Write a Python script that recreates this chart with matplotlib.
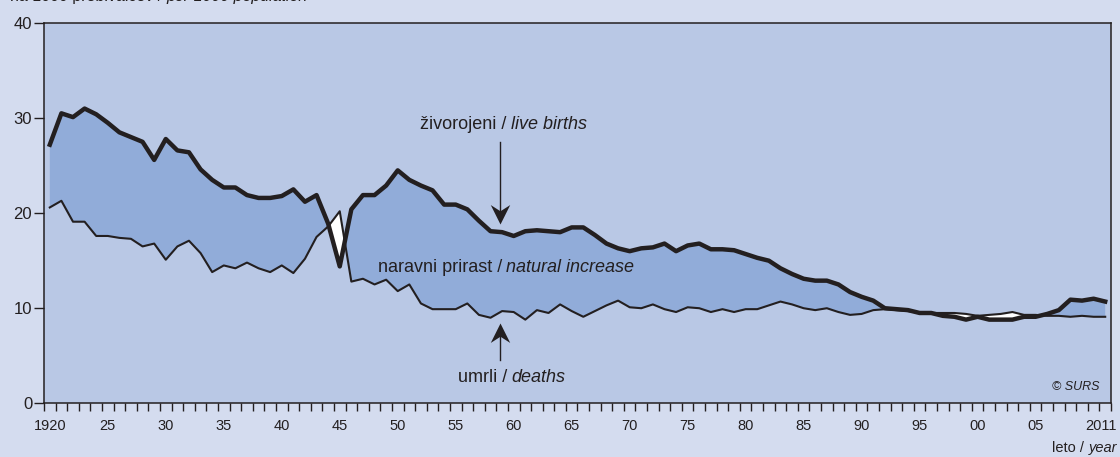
import numpy as np
import matplotlib
matplotlib.use('Agg')
import matplotlib.pyplot as plt
from matplotlib.path import Path

# crude rates per 1000 population, Slovenia 1920-2011
years = list(range(1920, 2012))
births = [
    27.2, 30.5, 30.1, 31.0, 30.4, 29.5, 28.5, 28.0, 27.5, 25.6,
    27.8, 26.6, 26.4, 24.6, 23.5, 22.7, 22.7, 21.9, 21.6, 21.6,
    21.8, 22.5, 21.2, 21.9, 18.9, 14.4, 20.4, 21.9, 21.9, 22.9,
    24.5, 23.5, 22.9, 22.4, 20.9, 20.9, 20.4, 19.2, 18.1, 18.0,
    17.6, 18.1, 18.2, 18.1, 18.0, 18.5, 18.5, 17.7, 16.8, 16.3,
    16.0, 16.3, 16.4, 16.8, 16.0, 16.6, 16.8, 16.2, 16.2, 16.1,
    15.7, 15.3, 15.0, 14.2, 13.6, 13.1, 12.9, 12.9, 12.5, 11.7,
    11.2, 10.8, 10.0, 9.9, 9.8, 9.5, 9.5, 9.2, 9.1, 8.8,
    9.1, 8.8, 8.8, 8.8, 9.1, 9.1, 9.4, 9.8, 10.9, 10.8, 11.0, 10.7,
]
deaths = [
    20.6, 21.3, 19.1, 19.1, 17.6, 17.6, 17.4, 17.3, 16.5, 16.8,
    15.1, 16.5, 17.1, 15.8, 13.8, 14.5, 14.2, 14.8, 14.2, 13.8,
    14.5, 13.7, 15.2, 17.5, 18.6, 20.2, 12.8, 13.1, 12.5, 13.0,
    11.8, 12.5, 10.5, 9.9, 9.9, 9.9, 10.5, 9.3, 9.0, 9.7,
    9.6, 8.8, 9.8, 9.5, 10.4, 9.7, 9.1, 9.7, 10.3, 10.8,
    10.1, 10.0, 10.4, 9.9, 9.6, 10.1, 10.0, 9.6, 9.9, 9.6,
    9.9, 9.9, 10.3, 10.7, 10.4, 10.0, 9.8, 10.0, 9.6, 9.3,
    9.4, 9.8, 9.9, 9.8, 9.7, 9.5, 9.5, 9.5, 9.5, 9.4,
    9.2, 9.3, 9.4, 9.6, 9.3, 9.3, 9.2, 9.2, 9.1, 9.2, 9.1, 9.1,
]

label_years = [1920, 1925, 1930, 1935, 1940, 1945, 1950, 1955, 1960, 1965,
               1970, 1975, 1980, 1985, 1990, 1995, 2000, 2005, 2011]
label_texts = ['1920', '25', '30', '35', '40', '45', '50', '55', '60', '65',
               '70', '75', '80', '85', '90', '95', '00', '05', '2011']
y_ticks = [0, 10, 20, 30, 40]

BG = '#d4dcef'
PLOT_BG = '#b9c8e5'
FILL = '#91acd9'
INK = '#231f20'

plt.rcParams['font.family'] = ['Liberation Sans Narrow', 'Liberation Sans', 'DejaVu Sans']

fig = plt.figure(figsize=(11.2, 4.57), dpi=100, facecolor=BG)
ax = fig.add_axes([44 / 1120, 1 - 403.3 / 457, (1111 - 44) / 1120, (403.3 - 23) / 457])
ax.set_facecolor(PLOT_BG)

# values sit in the middle of each year slot
x = np.array(years) + 0.5
b = np.array(births)
d = np.array(deaths)

ax.fill_between(x, d, b, where=b >= d, interpolate=True, color=FILL, lw=0)
ax.fill_between(x, d, b, where=b < d, interpolate=True, color='white', lw=0)
ax.plot(x, d, color=INK, lw=1.5, zorder=3)
ax.plot(x, b, color=INK, lw=3.2, zorder=4)

ax.set_xlim(1920, 2012)
ax.set_ylim(0, 40)

for s in ax.spines.values():
    s.set_color(INK)
    s.set_linewidth(1.1)

ax.set_yticks(y_ticks)
ax.tick_params(axis='y', length=7, width=1, color=INK, labelsize=12, pad=1.5, labelcolor=INK)
ax.set_xticks(np.arange(1920, 2013), minor=True)
# labels centred in the year slot, last one pulled in so it fits the page
label_pos = np.array(label_years) + 0.5
label_pos[-1] = 2011.1
ax.set_xticks(label_pos)
ax.set_xticklabels(label_texts)
ax.tick_params(axis='x', which='major', length=0, pad=11, labelsize=10.5, labelcolor=INK)
ax.tick_params(axis='x', which='minor', length=5.5, width=1, color=INK)


def two_part(x0, y0, plain, italic, size, gap=3):
    # plain part ends at x0, italic part follows on the same baseline
    t = ax.text(x0, y0, plain, ha='right', va='baseline', fontsize=size, color=INK)
    ax.annotate(italic, xy=(1, 0), xycoords=t, xytext=(gap, 0), textcoords='offset points',
                ha='left', va='bottom', fontsize=size, style='italic', color=INK)


two_part(1959.9, 28.8, 'živorojeni /', 'live births', 13)
two_part(1959.5, 13.85, 'naravni prirast /', 'natural increase', 13)
two_part(1959.9, 2.25, 'umrli /', 'deaths', 13)

# arrows with a notched head
head = Path([(0, 0), (-0.5, -1), (0, -0.68), (0.5, -1), (0, 0)],
            [Path.MOVETO, Path.LINETO, Path.LINETO, Path.LINETO, Path.CLOSEPOLY])
head_up = Path([(0, 0), (-0.5, 1), (0, 0.68), (0.5, 1), (0, 0)],
               [Path.MOVETO, Path.LINETO, Path.LINETO, Path.LINETO, Path.CLOSEPOLY])
arrow_x = 1959.3
ax.plot([arrow_x, arrow_x], [27.5, 19.5], color=INK, lw=1, zorder=5)
ax.plot([arrow_x], [18.9], marker=head_up, ms=28, color=INK, mew=0, zorder=5)
ax.plot([arrow_x, arrow_x], [4.6, 8.0], color=INK, lw=1, zorder=5)
ax.plot([arrow_x], [8.4], marker=head, ms=28, color=INK, mew=0, zorder=5)

ax.text(2011.0, 1.4, '© SURS', ha='right', va='baseline', fontsize=9, style='italic', color=INK)

# unit label at top, mostly cut off like in the original
t = fig.text(10 / 1120, 1 - 1.5 / 457, 'na 1000 prebivalcev /', ha='left', va='baseline',
             fontsize=11.5, color=INK)
ax.annotate('per 1000 population', xy=(1, 0), xycoords=t, xytext=(3, 0),
            textcoords='offset points', ha='left', va='bottom', fontsize=11.5,
            style='italic', color=INK, annotation_clip=False)

# axis title bottom right: italic part anchored at the right edge
t = fig.text(1117 / 1120, 1 - 452 / 457, 'year', ha='right', va='baseline',
             fontsize=10.5, style='italic', color=INK)
ax.annotate('leto /', xy=(0, 0), xycoords=t, xytext=(-3, 0), textcoords='offset points',
            ha='right', va='bottom', fontsize=10.5, color=INK, annotation_clip=False)

fig.savefig('out.png', dpi=100, facecolor=BG)
